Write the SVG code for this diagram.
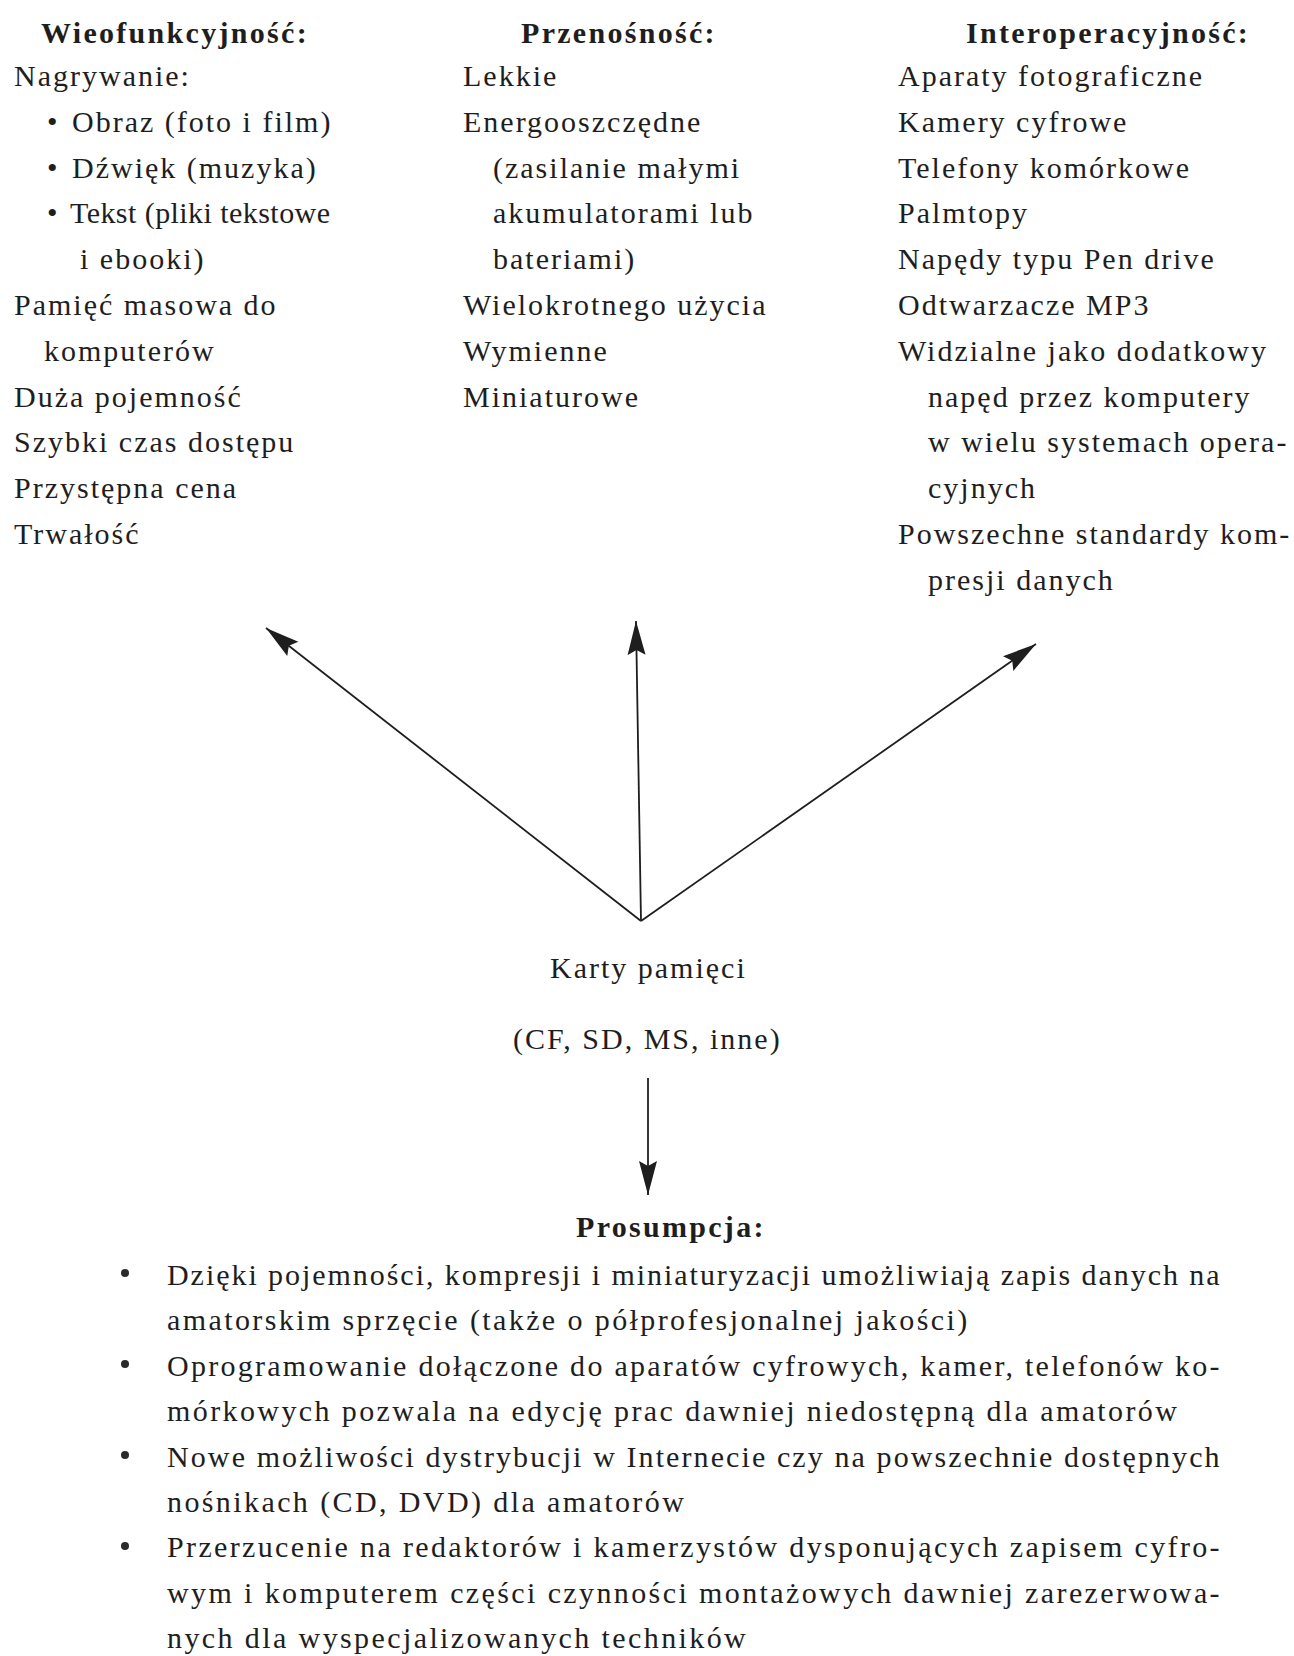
<svg xmlns="http://www.w3.org/2000/svg" width="1294" height="1656" viewBox="0 0 1294 1656">
<style>
  text { font-family: "Liberation Serif", "Times New Roman", serif; fill: #1e1e1e; }
  .t { font-size: 30px; letter-spacing: 2px; }
  .b { font-size: 30px; letter-spacing: 2.4px; }
  .h { font-size: 30px; font-weight: bold; letter-spacing: 2.3px; }
  .conn { stroke: #1e1e1e; stroke-width: 1.8; fill: none; }
  .dot { fill: #2a2a2a; }
</style>
<defs>
  <marker id="arr" markerUnits="userSpaceOnUse" markerWidth="36" markerHeight="20" refX="34" refY="10" orient="auto" viewBox="0 0 36 20">
    <path d="M0,1 L34,10 L0,19 L5,10 Z" fill="#1e1e1e"/>
  </marker>
</defs>
<rect width="1294" height="1656" fill="#ffffff"/>

<g id="node-wielofunkcyjnosc">
  <text class="h" x="41" y="43">Wieofunkcyjność:</text>
  <text class="t" x="14" y="86">Nagrywanie:</text>
  <text class="t" y="131.8"><tspan x="47">•</tspan><tspan x="72">Obraz (foto i film)</tspan></text>
  <text class="t" y="177.6"><tspan x="47">•</tspan><tspan x="72">Dźwięk (muzyka)</tspan></text>
  <text class="t" y="223.4"><tspan x="47">•</tspan><tspan x="70" textLength="262" lengthAdjust="spacing">Tekst (pliki tekstowe</tspan></text>
  <text class="t" x="80" y="269.2">i ebooki)</text>
  <text class="t" x="14" y="315">Pamięć masowa do</text>
  <text class="t" x="44" y="360.8">komputerów</text>
  <text class="t" x="14" y="406.6">Duża pojemność</text>
  <text class="t" x="14" y="452.4">Szybki czas dostępu</text>
  <text class="t" x="14" y="498.2">Przystępna cena</text>
  <text class="t" x="14" y="544">Trwałość</text>
</g>

<g id="node-przenosnosc">
  <text class="h" x="521" y="43">Przenośność:</text>
  <text class="t" x="463" y="86">Lekkie</text>
  <text class="t" x="463" y="131.8">Energooszczędne</text>
  <text class="t" x="493" y="177.6">(zasilanie małymi</text>
  <text class="t" x="493" y="223.4">akumulatorami lub</text>
  <text class="t" x="493" y="269.2">bateriami)</text>
  <text class="t" x="463" y="315">Wielokrotnego użycia</text>
  <text class="t" x="463" y="360.8">Wymienne</text>
  <text class="t" x="463" y="406.6">Miniaturowe</text>
</g>

<g id="node-interoperacyjnosc">
  <text class="h" x="966" y="43">Interoperacyjność:</text>
  <text class="t" x="898" y="86">Aparaty fotograficzne</text>
  <text class="t" x="898" y="131.8">Kamery cyfrowe</text>
  <text class="t" x="898" y="177.6">Telefony komórkowe</text>
  <text class="t" x="898" y="223.4">Palmtopy</text>
  <text class="t" x="898" y="269.2">Napędy typu Pen drive</text>
  <text class="t" x="898" y="315">Odtwarzacze MP3</text>
  <text class="t" x="898" y="360.8">Widzialne jako dodatkowy</text>
  <text class="t" x="928" y="406.6">napęd przez komputery</text>
  <text class="t" x="928" y="452.4">w wielu systemach opera-</text>
  <text class="t" x="928" y="498.2">cyjnych</text>
  <text class="t" x="898" y="544">Powszechne standardy kom-</text>
  <text class="t" x="928" y="589.8">presji danych</text>
</g>

<g id="node-karty">
  <text class="t" x="550" y="978">Karty pamięci</text>
  <text class="t" x="513" y="1049">(CF, SD, MS, inne)</text>
</g>

<g id="connectors">
  <line class="conn" x1="641" y1="921" x2="266" y2="628" marker-end="url(#arr)"/>
  <line class="conn" x1="641" y1="921" x2="636" y2="621" marker-end="url(#arr)"/>
  <line class="conn" x1="641" y1="921" x2="1036" y2="644" marker-end="url(#arr)"/>
  <line class="conn" x1="648" y1="1078" x2="648" y2="1195" marker-end="url(#arr)"/>
</g>

<g id="node-prosumpcja">
  <text class="h" x="576" y="1237">Prosumpcja:</text>
  <circle class="dot" cx="125" cy="1273" r="4"/>
  <text class="b" x="167" y="1285" textLength="1055" lengthAdjust="spacing">Dzięki pojemności, kompresji i miniaturyzacji umożliwiają zapis danych na</text>
  <text class="b" x="167" y="1330.4">amatorskim sprzęcie (także o półprofesjonalnej jakości)</text>
  <circle class="dot" cx="125" cy="1364" r="4"/>
  <text class="b" x="167" y="1375.8" textLength="1055" lengthAdjust="spacing">Oprogramowanie dołączone do aparatów cyfrowych, kamer, telefonów ko-</text>
  <text class="b" x="167" y="1421.2">mórkowych pozwala na edycję prac dawniej niedostępną dla amatorów</text>
  <circle class="dot" cx="125" cy="1455" r="4"/>
  <text class="b" x="167" y="1466.6" textLength="1055" lengthAdjust="spacing">Nowe możliwości dystrybucji w Internecie czy na powszechnie dostępnych</text>
  <text class="b" x="167" y="1512">nośnikach (CD, DVD) dla amatorów</text>
  <circle class="dot" cx="125" cy="1546" r="4"/>
  <text class="b" x="167" y="1557.4" textLength="1055" lengthAdjust="spacing">Przerzucenie na redaktorów i kamerzystów dysponujących zapisem cyfro-</text>
  <text class="b" x="167" y="1602.8" textLength="1055" lengthAdjust="spacing">wym i komputerem części czynności montażowych dawniej zarezerwowa-</text>
  <text class="b" x="167" y="1648.2">nych dla wyspecjalizowanych techników</text>
</g>
</svg>
